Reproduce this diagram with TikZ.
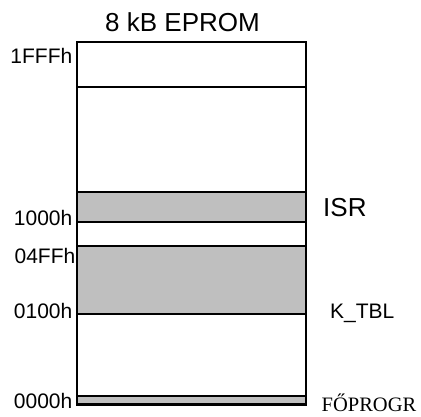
\documentclass[tikz,border=0pt]{standalone}
\usepackage{fontspec}
\setmainfont{Liberation Sans}
\newfontfamily\timesfont{Liberation Serif}
\begin{document}
\begin{tikzpicture}[x=1pt,y=-1pt,
  frame/.style={line width=1.8pt},
  addr/.style={anchor=base east,inner sep=0pt,font=\fontsize{21}{24}\selectfont},
  tag/.style={anchor=base west,inner sep=0pt,font=\fontsize{21}{24}\selectfont},
  bigtag/.style={anchor=base west,inner sep=0pt,font=\fontsize{26}{30}\selectfont}]
\useasboundingbox (0,0) rectangle (421,416);
% memory segments
\fill[black!25] (77,192.3) rectangle (306,222.3);
\fill[black!25] (77,246) rectangle (306,314);
\fill[black!25] (77,396) rectangle (306,404);
\draw[frame] (77,192.3) -- (306,192.3) (77,222.3) -- (306,222.3);
\draw[frame] (77,246) -- (306,246) (77,314) -- (306,314);
\draw[frame] (77,87.3) -- (306,87.3);
\draw[line width=1.4pt] (77,396) -- (306,396);
% outer frame of the EPROM
\draw[frame] (306,404.5) -- (77,404.5) -- (77,41.7) -- (306,41.7) -- cycle;
\draw[line width=3pt] (76.1,404.5) -- (306.9,404.5);
% title
\node[bigtag] (title) at (105,31.7) {8 kB EPROM};
% addresses
\node[addr] (a1fff) at (72.5,63) {1FFFh};
\node[addr] (a1000) at (72.5,225) {1000h};
\node[addr] (a04ff) at (75.5,263) {04FFh};
\node[addr] (a0100) at (72.5,318.5) {0100h};
\node[addr] (a0000) at (72.5,408.5) {0000h};
% segment names
\node[bigtag] (isr) at (323,216) {ISR};
\node[tag] (ktbl) at (330,318.5) {K\_TBL};
\node[anchor=base west,inner sep=0pt,font=\timesfont\fontsize{20.5}{24}\selectfont] (fo) at (321.5,411) {FŐPROGR};
\end{tikzpicture}
\end{document}
